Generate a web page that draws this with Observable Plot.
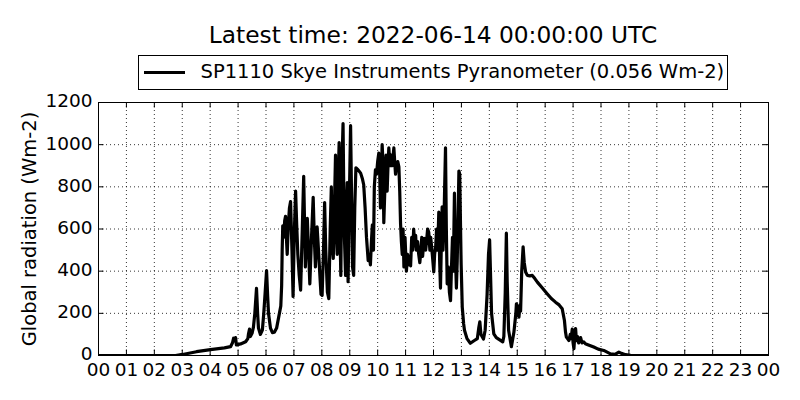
<!DOCTYPE html>
<html>
<head>
<meta charset="utf-8">
<script src="https://cdn.jsdelivr.net/npm/d3@7"></script>
<script src="https://cdn.jsdelivr.net/npm/@observablehq/plot@0.6"></script>
<style>
  body { margin: 0; background: #fff; }
  #fig { position: relative; width: 800px; height: 400px; font-family: "DejaVu Sans", sans-serif; color: #000; }
  #fig svg { position: absolute; left: 0; top: 0; }
  #title { position: absolute; left: 98px; width: 670px; top: 22.5px; text-align: center; font-size: 23.3px; line-height: 23.3px; white-space: nowrap; }
  #legend { position: absolute; left: 138px; top: 55px; width: 590px; height: 35px; box-sizing: border-box; border: 1px solid #000; background: #fff; }
  #legend .swatch { position: absolute; left: 5px; top: 14.5px; width: 41px; height: 3px; background: #000; }
  #legend .label { position: absolute; left: 61.5px; top: 6px; font-size: 19.5px; line-height: 19.5px; white-space: nowrap; }
</style>
</head>
<body>
<div id="fig">
  <div id="chart"></div>
  <div id="title"></div>
  <div id="legend"><div class="swatch"></div><div class="label"></div></div>
</div>
<script>
const titleText = "Latest time: 2022-06-14 00:00:00 UTC";
const seriesName = "SP1110 Skye Instruments Pyranometer (0.056 Wm-2)";
const yLabel = "Global radiation (Wm-2)";
const xTicks = d3.range(0, 25);
const yTicks = [0, 200, 400, 600, 800, 1000, 1200];

const hours = [
  0, 2.76, 3.01, 3.51, 4.01, 4.51, 4.73, 4.80, 4.84, 4.88, 4.91, 4.94, 5.09, 5.27, 5.35, 5.37, 5.41, 5.44, 5.50, 5.55,
  5.60, 5.66, 5.70, 5.73, 5.80, 5.87, 5.92, 5.97, 6.02, 6.06, 6.09, 6.16, 6.23, 6.30, 6.38, 6.48, 6.53, 6.56, 6.58, 6.60,
  6.63, 6.67, 6.70, 6.73, 6.76, 6.80, 6.84, 6.88, 6.93, 6.97, 7.01, 7.06, 7.10, 7.14, 7.19, 7.24, 7.30, 7.35, 7.41, 7.45,
  7.48, 7.53, 7.57, 7.63, 7.69, 7.73, 7.77, 7.83, 7.88, 7.93, 7.97, 8.01, 8.06, 8.10, 8.14, 8.20, 8.25, 8.30, 8.34, 8.37,
  8.41, 8.45, 8.49, 8.52, 8.55, 8.58, 8.62, 8.66, 8.68, 8.72, 8.76, 8.80, 8.85, 8.88, 8.91, 8.94, 8.98, 9.03, 9.06, 9.10,
  9.14, 9.18, 9.22, 9.27, 9.33, 9.39, 9.45, 9.50, 9.55, 9.60, 9.66, 9.70, 9.74, 9.78, 9.81, 9.85, 9.88, 9.92, 9.96, 10.00,
  10.04, 10.07, 10.10, 10.13, 10.16, 10.19, 10.22, 10.26, 10.30, 10.34, 10.37, 10.40, 10.44, 10.48, 10.52, 10.55, 10.58, 10.61, 10.64, 10.68,
  10.72, 10.76, 10.79, 10.82, 10.85, 10.88, 10.91, 10.94, 10.98, 11.03, 11.07, 11.10, 11.14, 11.18, 11.22, 11.26, 11.29, 11.33, 11.36, 11.39,
  11.43, 11.47, 11.51, 11.55, 11.58, 11.61, 11.64, 11.68, 11.72, 11.75, 11.79, 11.83, 11.87, 11.90, 11.93, 11.97, 12.01, 12.04, 12.08, 12.11,
  12.15, 12.19, 12.22, 12.25, 12.28, 12.31, 12.34, 12.37, 12.40, 12.43, 12.46, 12.49, 12.53, 12.57, 12.61, 12.64, 12.68, 12.71, 12.75, 12.78,
  12.82, 12.85, 12.88, 12.91, 12.94, 12.97, 12.99, 13.03, 13.08, 13.11, 13.20, 13.32, 13.45, 13.57, 13.62, 13.66, 13.70, 13.79, 13.85, 13.92,
  13.97, 14.01, 14.04, 14.08, 14.16, 14.25, 14.40, 14.48, 14.52, 14.57, 14.61, 14.64, 14.69, 14.79, 14.88, 14.95, 14.97, 15.02, 15.06, 15.10,
  15.12, 15.16, 15.21, 15.25, 15.30, 15.36, 15.45, 15.54, 15.63, 15.72, 15.90, 16.07, 16.22, 16.37, 16.50, 16.61, 16.69, 16.73, 16.76, 16.80,
  16.85, 16.90, 16.93, 16.97, 17.00, 17.03, 17.06, 17.09, 17.12, 17.16, 17.20, 17.27, 17.32, 17.38, 17.44, 17.55, 17.74, 17.90, 18.10, 18.34,
  18.50, 18.64, 18.73, 18.88, 19.06, 19.30, 24
];
const radiation = [
  0, 0, 5, 18, 28, 36, 42, 60, 82, 70, 85, 50, 55, 65, 80, 100, 125, 90, 105, 135,
  200, 318, 200, 130, 100, 120, 200, 300, 403, 280, 200, 130, 108, 110, 130, 200, 235, 330, 500, 615,
  560, 640, 660, 560, 480, 620, 700, 730, 500, 280, 560, 780, 620, 480, 380, 310, 600, 850, 420, 560,
  650, 480, 340, 560, 750, 560, 420, 610, 500, 380, 290, 285, 500, 725, 500, 300, 270, 600, 800, 520,
  460, 700, 950, 600, 480, 800, 1010, 520, 380, 900, 1100, 600, 380, 700, 820, 350, 700, 1090, 800, 420,
  380, 700, 890, 885, 875, 865, 840, 810, 700, 560, 450, 480, 430, 550, 620, 500, 800, 880, 860, 920,
  960, 880, 700, 820, 1000, 920, 630, 800, 950, 780, 900, 985, 900, 950, 900, 940, 985, 920, 860, 900,
  920, 895, 780, 625, 540, 480, 600, 420, 560, 400, 480, 430, 470, 425, 560, 500, 600, 520, 570, 500,
  540, 480, 440, 500, 560, 470, 520, 555, 500, 540, 600, 585, 500, 560, 520, 460, 396, 480, 520, 600,
  500, 680, 450, 320, 520, 705, 500, 600, 800, 985, 600, 340, 420, 300, 260, 400, 560, 400, 770, 500,
  320, 450, 650, 875, 860, 600, 435, 230, 150, 120, 80, 58, 70, 80, 130, 160, 100, 78, 120, 290,
  480, 548, 400, 200, 103, 85, 72, 65, 90, 300, 580, 350, 120, 42, 110, 200, 245, 220, 182, 240,
  210, 400, 515, 440, 396, 380, 378, 380, 365, 348, 320, 293, 270, 253, 240, 222, 166, 110, 87, 80,
  71, 100, 80, 125, 60, 32, 90, 128, 70, 90, 60, 85, 60, 65, 56, 50, 40, 30, 24, 8,
  5, 16, 10, 4, 1, 0, 0
];

const data = hours.map((h, i) => ({hour: h, value: radiation[i]}));

document.getElementById("title").textContent = titleText;
document.querySelector("#legend .label").textContent = seriesName;

const chart = Plot.plot({
  width: 800,
  height: 400,
  marginTop: 102,
  marginBottom: 45,
  marginLeft: 98,
  marginRight: 32,
  style: {fontFamily: "DejaVu Sans, sans-serif", background: "white", color: "black", overflow: "visible"},
  x: {type: "linear", domain: [0, 24]},
  y: {domain: [0, 1200]},
  marks: [
    Plot.gridX(xTicks, {stroke: "black", strokeOpacity: 1, strokeWidth: 0.8, strokeDasharray: "1,3"}),
    Plot.gridY(yTicks, {stroke: "black", strokeOpacity: 1, strokeWidth: 0.8, strokeDasharray: "1,3"}),
    Plot.tickX(xTicks, {x: d => d, insetTop: 247.5, stroke: "black"}),
    Plot.tickX(xTicks, {x: d => d, insetBottom: 247.5, stroke: "black"}),
    Plot.tickY(yTicks, {y: d => d, insetRight: 664.5, stroke: "black"}),
    Plot.tickY(yTicks, {y: d => d, insetLeft: 664.5, stroke: "black"}),
    Plot.line(data, {x: "hour", y: "value", stroke: "black", strokeWidth: 3.2, strokeLinejoin: "round", clip: true}),
    Plot.axisX(xTicks, {tickSize: 0, tickPadding: 7, fontSize: 18.5, tickFormat: d => String(d % 24).padStart(2, "0"), label: null}),
    Plot.axisY(yTicks, {tickSize: 0, tickPadding: 6, dy: -1, fontSize: 18.5, tickFormat: d => String(d), label: null}),
    Plot.text([yLabel], {text: d => d, frameAnchor: "left", rotate: -90, dx: -69, fontSize: 19.5, textAnchor: "middle", lineAnchor: "middle"}),
    Plot.frame({stroke: "black", strokeWidth: 1})
  ]
});
document.getElementById("chart").appendChild(chart);
</script>
</body>
</html>
